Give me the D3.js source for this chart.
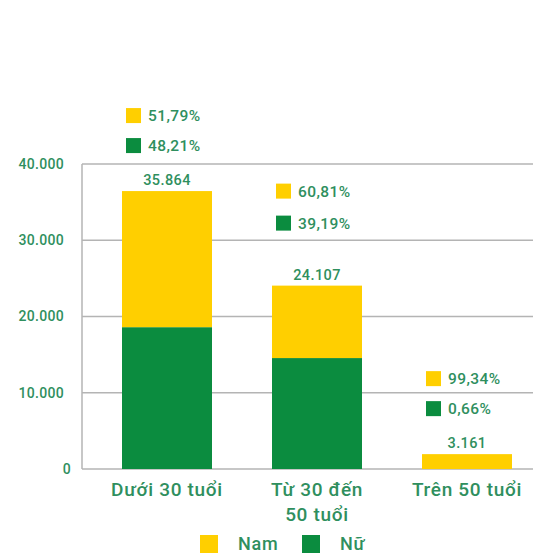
<!DOCTYPE html>
<html>
<head>
<meta charset="utf-8">
<script src="https://cdn.jsdelivr.net/npm/d3@7"></script>
<style>
  html, body { margin: 0; padding: 0; background: #ffffff; }
  svg { display: block; font-family: Roboto, "Noto Sans", sans-serif; }
</style>
</head>
<body>
<svg id="chart" width="533" height="556"></svg>
<script>
// ---- data ----
const categories = ["Dưới 30 tuổi", "Từ 30 đến 50 tuổi", "Trên 50 tuổi"];
const categoryLines = [["Dưới 30 tuổi"], ["Từ 30 đến", "50 tuổi"], ["Trên 50 tuổi"]];
const nuValues = [18600, 14550, 0];      // green (Nữ), bottom segment as drawn
const namValues = [17850, 9500, 1950];   // yellow (Nam), top segment as drawn
const totalLabels = ["35.864", "24.107", "3.161"];
const namPctLabels = ["51,79%", "60,81%", "99,34%"];
const nuPctLabels = ["48,21%", "39,19%", "0,66%"];
const yTicks = [0, 10000, 20000, 30000, 40000];
const seriesNames = ["Nam", "Nữ"];

// ---- styles ----
const YELLOW = "#ffcf00";
const GREEN = "#0b8c3f";
const TEXT = "#2f8f5e";
const GRID = "#b4b4b4";

const svg = d3.select("#chart");
const W = 533;
const plot = { left: 82, top: 164, bottom: 469 };

const y = d3.scaleLinear().domain([0, 40000]).range([plot.bottom, plot.top]);
const x = d3.scaleBand().domain(categories).range([92, 542]).paddingInner(0.4).paddingOuter(0.2);

const loc = d3.formatLocale({ decimal: ",", thousands: ".", grouping: [3], currency: ["", ""] });
const fmt = loc.format(",d");

// gridlines
svg.append("g").selectAll("line").data(yTicks).join("line")
  .attr("x1", plot.left).attr("x2", W)
  .attr("y1", d => y(d)).attr("y2", d => y(d))
  .attr("stroke", GRID).attr("stroke-width", 1.5);

// left axis line
svg.append("line")
  .attr("x1", plot.left).attr("x2", plot.left)
  .attr("y1", y(40000)).attr("y2", y(0))
  .attr("stroke", GRID).attr("stroke-width", 1.5);

// y tick labels
svg.append("g").selectAll("text").data(yTicks).join("text")
  .attr("x", d => d === 0 ? 71 : 64).attr("y", d => y(d))
  .attr("dy", "0.35em")
  .attr("text-anchor", "end")
  .attr("fill", TEXT).attr("font-size", 14).attr("font-weight", 500)
  .attr("letter-spacing", 0.3)
  .text(d => fmt(d));

// stacked data
const rows = categories.map((c, i) => ({ cat: c, nu: nuValues[i], nam: namValues[i] }));
const stack = d3.stack().keys(["nu", "nam"])(rows);
const colors = { nu: GREEN, nam: YELLOW };

svg.append("g").selectAll("g").data(stack).join("g")
  .attr("fill", s => colors[s.key])
  .selectAll("rect").data(s => s).join("rect")
  .attr("x", d => x(d.data.cat))
  .attr("width", x.bandwidth())
  .attr("y", d => y(d[1]))
  .attr("height", d => Math.max(0, y(d[0]) - y(d[1])));

// labels above bars
const labelLift = [0, 19, 0];
categories.forEach((c, i) => {
  const top = y(nuValues[i] + namValues[i]);
  const cx = x(c) + x.bandwidth() / 2;
  const bx = x(c) + 4;
  svg.append("text")
    .attr("x", cx).attr("y", top - 11).attr("dy", "0.35em")
    .attr("text-anchor", "middle")
    .attr("fill", TEXT).attr("font-size", 14.5).attr("font-weight", 500)
    .attr("letter-spacing", 0.4)
    .text(totalLabels[i]);
  const ys = top - 83 - labelLift[i];
  const yg = top - 53 - labelLift[i] + (i === 1 ? 2 : 0);
  svg.append("rect").attr("x", bx).attr("y", ys).attr("width", 15).attr("height", 15).attr("fill", YELLOW);
  svg.append("text").attr("x", bx + 22).attr("y", ys + 7.5).attr("dy", "0.35em")
    .attr("fill", TEXT).attr("font-size", 15.5).attr("font-weight", 500)
    .attr("letter-spacing", 0.4).text(namPctLabels[i]);
  svg.append("rect").attr("x", bx).attr("y", yg).attr("width", 15).attr("height", 15).attr("fill", GREEN);
  svg.append("text").attr("x", bx + 22).attr("y", yg + 7.5).attr("dy", "0.35em")
    .attr("fill", TEXT).attr("font-size", 15.5).attr("font-weight", 500)
    .attr("letter-spacing", 0.4).text(nuPctLabels[i]);
});

// x category labels
categories.forEach((c, i) => {
  const cx = x(c) + x.bandwidth() / 2;
  const t = svg.append("text")
    .attr("text-anchor", "middle")
    .attr("fill", TEXT).attr("font-size", 19).attr("font-weight", 500)
    .attr("letter-spacing", 0.7);
  categoryLines[i].forEach((line, j) => {
    t.append("tspan").attr("x", cx).attr("y", 496 + j * 25).text(line);
  });
});

// legend
const legend = svg.append("g");
const legendX = [200, 302];
seriesNames.forEach((name, i) => {
  legend.append("rect").attr("x", legendX[i]).attr("y", 535).attr("width", 18).attr("height", 18)
    .attr("fill", i === 0 ? YELLOW : GREEN);
  legend.append("text").attr("x", legendX[i] + 38).attr("y", 550)
    .attr("fill", TEXT).attr("font-size", 18).attr("font-weight", 500)
    .attr("letter-spacing", 0.8).text(name);
});
</script>
</body>
</html>
